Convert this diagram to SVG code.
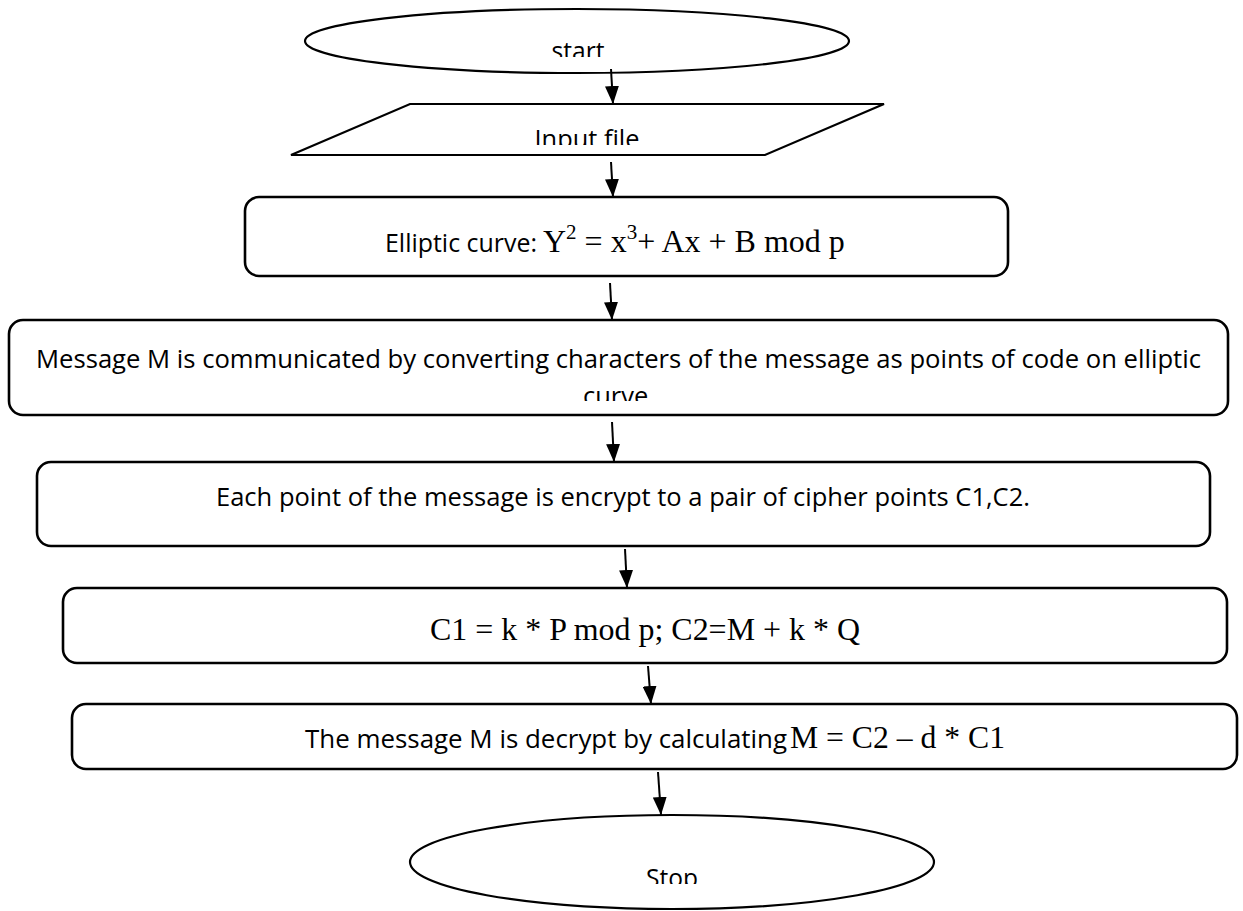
<svg xmlns="http://www.w3.org/2000/svg" width="1243" height="911" viewBox="0 0 1243 911">
<style>
.box{fill:#fff;stroke:#000;stroke-width:2.6}
.shape{fill:#fff;stroke:#000;stroke-width:2.2}
.sans{font-family:"Open Sans","Liberation Sans",sans-serif;font-size:26px;fill:#000}
.serif{font-family:"Liberation Serif","Times New Roman",serif;font-size:32px;fill:#000}
.conn{stroke:#000;stroke-width:2;fill:none;marker-end:url(#ah)}
</style>
<defs>
<marker id="ah" viewBox="0 0 18 14" markerWidth="18" markerHeight="14" refX="18" refY="7" orient="auto" markerUnits="userSpaceOnUse">
<path d="M0,0 L18,7 L0,14 z" fill="#000"/>
</marker>
<clipPath id="cStart"><rect x="300" y="0" width="560" height="57"/></clipPath>
<clipPath id="cInput"><rect x="290" y="100" width="600" height="45"/></clipPath>
<clipPath id="cCurve"><rect x="10" y="320" width="1210" height="81"/></clipPath>
<clipPath id="cStop"><rect x="400" y="810" width="540" height="74"/></clipPath>
</defs>

<g id="start">
<ellipse class="shape" cx="577" cy="41" rx="272" ry="32"/>
<text class="sans" x="578" y="60" text-anchor="middle" textLength="53" lengthAdjust="spacingAndGlyphs" clip-path="url(#cStart)">start</text>
</g>

<g id="input">
<polygon class="shape" stroke-width="1.8" points="410,104 884,104 765,155 291,155"/>
<text class="sans" x="587" y="148" text-anchor="middle" textLength="105" lengthAdjust="spacingAndGlyphs" clip-path="url(#cInput)">Input file</text>
</g>

<g id="curve">
<rect class="box" x="245" y="197" width="763" height="79" rx="14"/>
<text class="sans" x="385" y="252" textLength="152" lengthAdjust="spacingAndGlyphs">Elliptic curve:</text>
<text class="serif" x="543" y="252" font-size="33">Y<tspan font-size="21" dy="-13">2</tspan><tspan dy="13"> = x</tspan><tspan font-size="21" dy="-13">3</tspan><tspan dy="13">+ Ax + B mod p</tspan></text>
</g>

<g id="message">
<rect class="box" x="9" y="320" width="1219" height="95" rx="14"/>
<text class="sans" x="36" y="368" textLength="1165" lengthAdjust="spacingAndGlyphs">Message M is communicated by converting characters of the message as points of code on elliptic</text>
<text class="sans" x="619" y="405" text-anchor="middle" textLength="72" lengthAdjust="spacingAndGlyphs" clip-path="url(#cCurve)">curve.</text>
</g>

<g id="encrypt">
<rect class="box" x="37" y="462" width="1173" height="84" rx="14"/>
<text class="sans" x="216" y="506" textLength="814" lengthAdjust="spacingAndGlyphs">Each point of the message is encrypt to a pair of cipher points C1,C2.</text>
</g>

<g id="cipher">
<rect class="box" x="63" y="588" width="1164" height="75" rx="14"/>
<text class="serif" x="430" y="640" textLength="430" lengthAdjust="spacingAndGlyphs">C1 = k * P mod p; C2=M + k * Q</text>
</g>

<g id="decrypt">
<rect class="box" x="72" y="704" width="1165" height="65" rx="14"/>
<text class="sans" x="305" y="748" textLength="482" lengthAdjust="spacingAndGlyphs">The message M is decrypt by calculating</text>
<text class="serif" x="790" y="748" textLength="215" lengthAdjust="spacingAndGlyphs">M = C2 – d * C1</text>
</g>

<g id="stop">
<ellipse class="shape" cx="672" cy="862" rx="262" ry="47"/>
<text class="sans" x="672" y="887" text-anchor="middle" textLength="52" lengthAdjust="spacingAndGlyphs" clip-path="url(#cStop)">Stop</text>
</g>

<g id="connectors">
<line class="conn" x1="611" y1="69" x2="613" y2="104"/>
<line class="conn" x1="611" y1="162" x2="613" y2="197"/>
<line class="conn" x1="610" y1="283" x2="612" y2="320"/>
<line class="conn" x1="612" y1="422" x2="614" y2="462"/>
<line class="conn" x1="625" y1="549" x2="627" y2="588"/>
<line class="conn" x1="648" y1="666" x2="651" y2="704"/>
<line class="conn" x1="658" y1="772" x2="661" y2="815"/>
</g>
</svg>
